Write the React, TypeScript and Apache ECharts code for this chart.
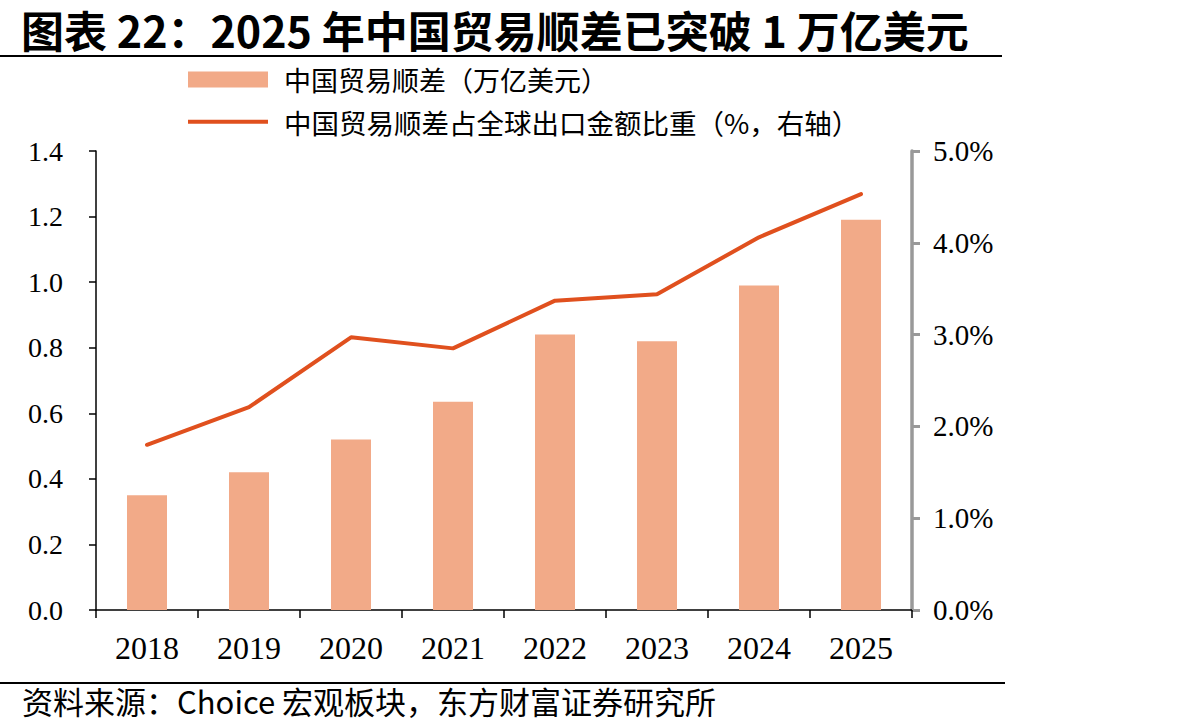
import React, { useEffect, useRef } from "react";
import * as echarts from "echarts";

// 年份
const years = ["2018", "2019", "2020", "2021", "2022", "2023", "2024", "2025"];
// 中国贸易顺差（万亿美元）
const surplus = [0.35, 0.42, 0.52, 0.635, 0.84, 0.82, 0.99, 1.19];
// 中国贸易顺差占全球出口金额比重（%）
const shareOfExports = [1.8, 2.21, 2.97, 2.85, 3.37, 3.44, 4.06, 4.53];

const barName = "中国贸易顺差（万亿美元）";
const lineName = "中国贸易顺差占全球出口金额比重（%，右轴）";
const titleText = "图表 22：2025 年中国贸易顺差已突破 1 万亿美元";
const sourceText = "资料来源：Choice 宏观板块，东方财富证券研究所";

const BAR_COLOR = "#F2AA88";
const LINE_COLOR = "#E0501E";
const SERIF = "'Liberation Serif', 'Times New Roman', serif";
const CJK = "'Noto Sans CJK SC', 'Noto Sans', sans-serif";

export default function App() {
  const ref = useRef<HTMLDivElement>(null);

  useEffect(() => {
    if (!ref.current) return;
    const chart = echarts.init(ref.current, undefined, { renderer: "svg" });
    chart.setOption({
      animation: false,
      backgroundColor: "#fff",
      graphic: [
        {
          type: "text",
          x: 21,
          y: 29,
          style: {
            text: titleText,
            font: `bold 43px ${CJK}`,
            fill: "#000",
            align: "left",
            verticalAlign: "middle",
          },
        },
        {
          type: "line",
          shape: { x1: 0, y1: 56, x2: 1002, y2: 56 },
          style: { stroke: "#000", lineWidth: 2 },
        },
        {
          type: "line",
          shape: { x1: 0, y1: 683, x2: 1005, y2: 683 },
          style: { stroke: "#000", lineWidth: 2 },
        },
        {
          type: "text",
          x: 22,
          y: 700,
          style: {
            text: sourceText,
            font: `31px ${CJK}`,
            fill: "#000",
            align: "left",
            verticalAlign: "middle",
          },
        },
      ],
      legend: [
        {
          data: [{ name: barName, icon: "rect" }],
          left: 183,
          top: 61,
          itemWidth: 80,
          itemHeight: 16,
          textStyle: {
            fontFamily: CJK,
            fontSize: 27,
            color: "#000",
            padding: [0, 0, 0, 11],
          },
        },
        {
          data: [{ name: lineName, icon: "rect" }],
          left: 183,
          top: 103,
          itemWidth: 80,
          itemHeight: 4,
          textStyle: {
            fontFamily: CJK,
            fontSize: 27.5,
            color: "#000",
            padding: [0, 0, 0, 11],
          },
        },
      ],
      grid: { left: 96, right: 280, top: 151, bottom: 117 },
      xAxis: {
        type: "category",
        data: years,
        boundaryGap: true,
        axisLine: { lineStyle: { color: "#000", width: 1.5 } },
        axisTick: { show: true, length: 8, lineStyle: { color: "#000", width: 1.5 } },
        axisLabel: {
          fontFamily: SERIF,
          fontSize: 32,
          color: "#000",
          margin: 22,
        },
      },
      yAxis: [
        {
          type: "value",
          min: 0,
          max: 1.4,
          interval: 0.2,
          splitLine: { show: false },
          axisLine: { show: true, lineStyle: { color: "#000", width: 1.5 } },
          axisTick: { show: true, length: 7, lineStyle: { color: "#000", width: 1.5 } },
          axisLabel: {
            fontFamily: SERIF,
            fontSize: 28,
            color: "#000",
            margin: 33,
            formatter: (v: number) => v.toFixed(1),
          },
        },
        {
          type: "value",
          min: 0,
          max: 5,
          interval: 1,
          position: "right",
          splitLine: { show: false },
          axisLine: { show: true, lineStyle: { color: "#999", width: 3.5 } },
          axisTick: { show: true, length: 8, lineStyle: { color: "#999", width: 3 } },
          axisLabel: {
            fontFamily: SERIF,
            fontSize: 29,
            color: "#000",
            margin: 21,
            formatter: (v: number) => v.toFixed(1) + "%",
          },
        },
      ],
      series: [
        {
          name: barName,
          type: "bar",
          data: surplus,
          barWidth: 40,
          itemStyle: { color: BAR_COLOR },
          yAxisIndex: 0,
        },
        {
          name: lineName,
          type: "line",
          data: shareOfExports,
          yAxisIndex: 1,
          showSymbol: false,
          symbol: "none",
          lineStyle: { color: LINE_COLOR, width: 4, cap: "round" },
          itemStyle: { color: LINE_COLOR },
        },
      ],
    });
    return () => chart.dispose();
  }, []);

  return (
    <div
      ref={ref}
      style={{ position: "fixed", left: 0, top: 0, width: 1192, height: 727 }}
    />
  );
}
